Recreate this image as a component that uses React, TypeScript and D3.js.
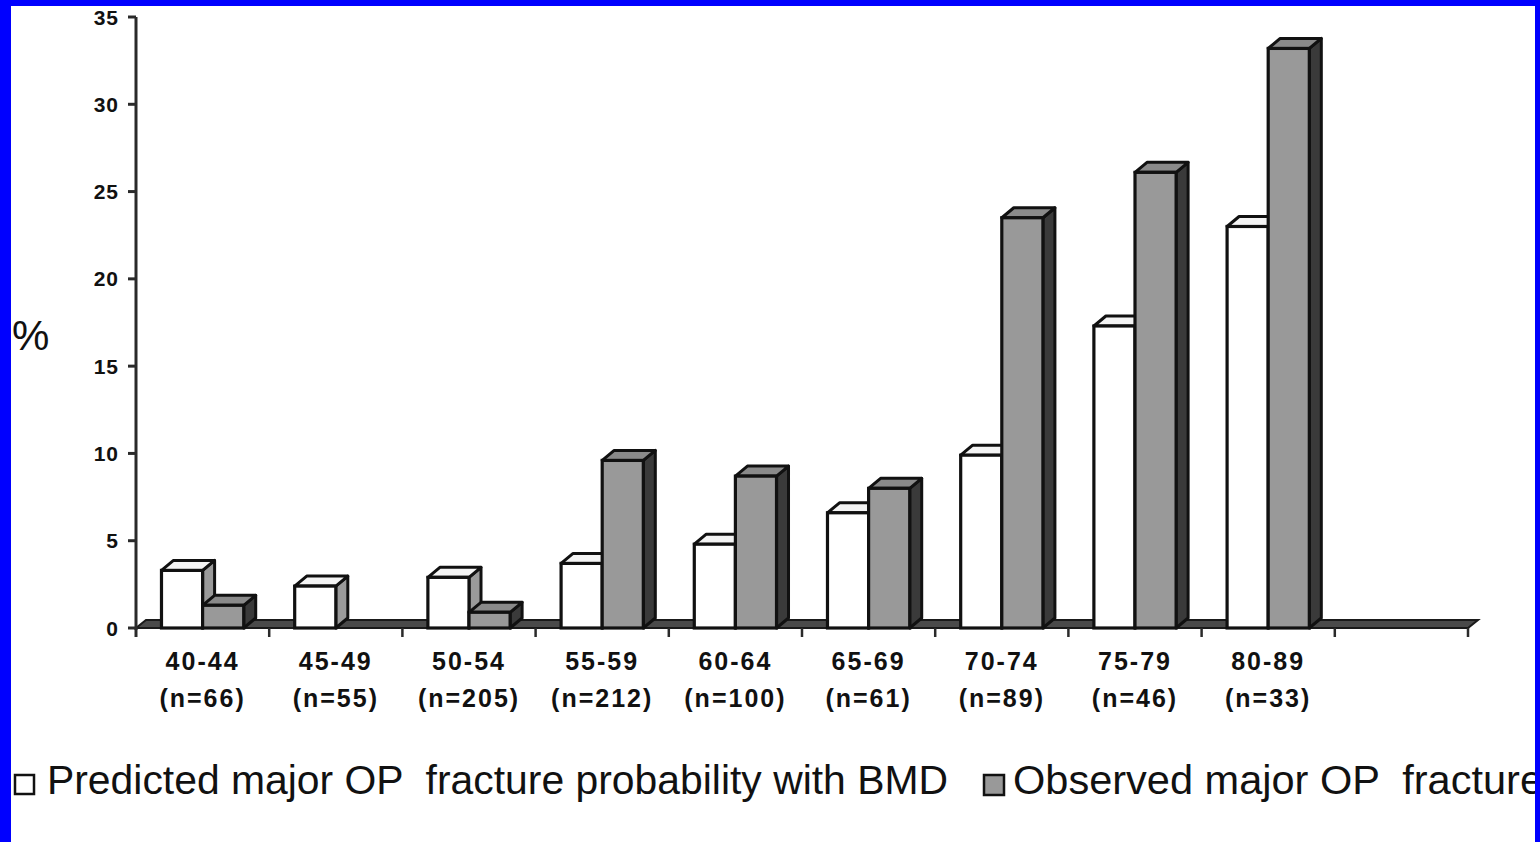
import React from "react";
import * as d3 from "d3";

const ageGroups = ["40-44", "45-49", "50-54", "55-59", "60-64", "65-69", "70-74", "75-79", "80-89"];
const sampleSizes = ["(n=66)", "(n=55)", "(n=205)", "(n=212)", "(n=100)", "(n=61)", "(n=89)", "(n=46)", "(n=33)"];
const predicted = [3.3, 2.4, 2.9, 3.7, 4.8, 6.6, 9.9, 17.3, 23.0];
const observed = [1.3, 0, 0.9, 9.6, 8.7, 8.0, 23.5, 26.1, 33.2];
const yTicks = [0, 5, 10, 15, 20, 25, 30, 35];
const seriesNames = ["Predicted major OP  fracture probability with BMD", "Observed major OP  fracture"];

const W = 1540;
const H = 842;
const left = 136;
const right = 1468;
const top = 17;
const base = 628;
const DX = 12;
const DY = 10;

const slots = [...ageGroups, ""];

export default function App() {
  const x0 = d3.scaleBand<string>().domain(slots).range([left, right]).padding(0);
  const x1 = d3.scaleBand<string>().domain(["pred", "obs"]).range([0, x0.bandwidth()]).paddingInner(0).paddingOuter(0.62);
  const y = d3.scaleLinear().domain([0, 35]).range([base, top]);
  const bw = x1.bandwidth();

  const styles = {
    pred: { front: "#ffffff", topC: "#f4f4f4", side: "#9a9a9a" },
    obs: { front: "#999999", topC: "#8a8a8a", side: "#3a3a3a" },
  } as const;

  const bar = (key: "pred" | "obs", cat: string, v: number, i: number) => {
    if (!v) return null;
    const x = (x0(cat) as number) + (x1(key) as number);
    const yv = y(v);
    const s = styles[key];
    const stroke = "#111";
    return (
      <g key={key + i}>
        <polygon
          points={`${x + bw},${yv} ${x + bw + DX},${yv - DY} ${x + bw + DX},${base - DY} ${x + bw},${base}`}
          fill={s.side}
          stroke={stroke}
          strokeWidth={3}
          strokeLinejoin="round"
        />
        <polygon
          points={`${x},${yv} ${x + DX},${yv - DY} ${x + bw + DX},${yv - DY} ${x + bw},${yv}`}
          fill={s.topC}
          stroke={stroke}
          strokeWidth={3}
          strokeLinejoin="round"
        />
        <rect x={x} y={yv} width={bw} height={base - yv} fill={s.front} stroke={stroke} strokeWidth={3.2} />
      </g>
    );
  };

  const tickFont = "'Liberation Sans', Arial, sans-serif";

  return (
    <svg width={W} height={H} style={{ position: "absolute", left: 0, top: 0 }} xmlns="http://www.w3.org/2000/svg">
      <rect x={0} y={0} width={W} height={H} fill="#ffffff" />

      {/* floor */}
      <polygon
        points={`${left},${base} ${right},${base} ${right + 10},${base - 8} ${left + 10},${base - 8}`}
        fill="#4a4a4a"
        stroke="#1a1a1a"
        strokeWidth={2}
      />

      {/* y axis */}
      <line x1={left} x2={left} y1={top} y2={base + 2} stroke="#2a2a2a" strokeWidth={3} />
      {yTicks.map((t) => (
        <g key={"yt" + t}>
          <line x1={left - 8} x2={left} y1={y(t)} y2={y(t)} stroke="#2a2a2a" strokeWidth={3} />
          <text
            x={left - 17}
            y={y(t)}
            dy="0.36em"
            textAnchor="end"
            fontFamily={tickFont}
            fontWeight="bold"
            fontSize={21}
            letterSpacing={1}
            fill="#111"
          >
            {t}
          </text>
        </g>
      ))}

      {/* x ticks */}
      {slots.map((c, i) => (
        <line
          key={"xt" + i}
          x1={(x0(c) as number) + x0.bandwidth()}
          x2={(x0(c) as number) + x0.bandwidth()}
          y1={base}
          y2={base + 9}
          stroke="#2a2a2a"
          strokeWidth={2.5}
        />
      ))}
      <line x1={left} x2={left} y1={base} y2={base + 9} stroke="#2a2a2a" strokeWidth={3} />

      {/* bars */}
      {ageGroups.map((c, i) => (
        <g key={"grp" + i}>
          {bar("pred", c, predicted[i], i)}
          {bar("obs", c, observed[i], i)}
        </g>
      ))}

      {/* x labels */}
      {ageGroups.map((c, i) => {
        const cx = (x0(c) as number) + x0.bandwidth() / 2;
        return (
          <g key={"xl" + i} fontFamily={tickFont} fontWeight="bold" fill="#111" textAnchor="middle">
            <text x={cx} y={670} fontSize={25} letterSpacing={2}>
              {c}
            </text>
            <text x={cx} y={707} fontSize={25} letterSpacing={2}>
              {sampleSizes[i]}
            </text>
          </g>
        );
      })}

      {/* y label */}
      <text x={12} y={350} fontFamily={tickFont} fontSize={42} fill="#111">
        %
      </text>

      {/* legend */}
      <rect x={15} y={775} width={19} height={19} fill="#ffffff" stroke="#111" strokeWidth={2.5} />
      <text
        x={47}
        y={794}
        fontFamily={tickFont}
        fontSize={40}
        fill="#111"
        textLength={901}
        lengthAdjust="spacingAndGlyphs"
        style={{ whiteSpace: "pre" }}
      >
        {seriesNames[0]}
      </text>
      <rect x={984} y={775} width={20} height={20} fill="#999999" stroke="#111" strokeWidth={2.5} />
      <text
        x={1013}
        y={794}
        fontFamily={tickFont}
        fontSize={40}
        fill="#111"
        textLength={530}
        lengthAdjust="spacingAndGlyphs"
        style={{ whiteSpace: "pre" }}
      >
        {seriesNames[1]}
      </text>

      {/* blue frame */}
      <rect x={0} y={0} width={11} height={H} fill="#0000ff" />
      <rect x={0} y={0} width={W} height={6} fill="#0000ff" />
      <rect x={1535} y={0} width={5} height={H} fill="#0000ff" />
    </svg>
  );
}
